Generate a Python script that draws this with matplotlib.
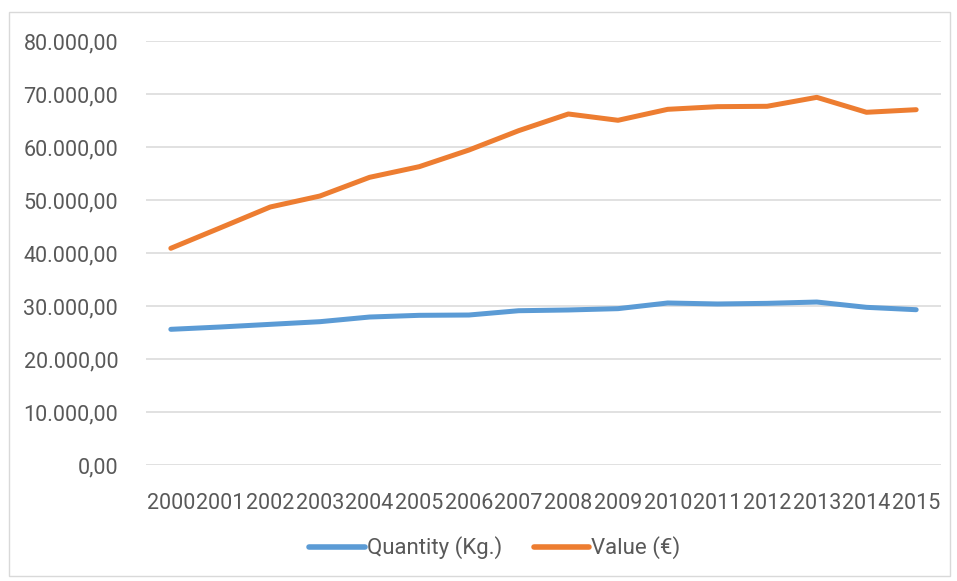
import matplotlib.pyplot as plt
from matplotlib.ticker import FuncFormatter, MultipleLocator
from matplotlib.patches import Rectangle

years = [str(y) for y in range(2000, 2016)]
quantity = [25600, 26040, 26540, 27040, 27920, 28240, 28300, 29110,
            29250, 29500, 30570, 30380, 30500, 30750, 29750, 29300]
value = [40890, 44770, 48680, 50750, 54280, 56290, 59430, 63080,
         66230, 65040, 67110, 67610, 67680, 69370, 66550, 67040]

plt.rcParams['font.family'] = 'Roboto'
text_col = '#595959'


def de_fmt(v, pos):
    s = f'{v:,.2f}'
    return s.replace(',', 'X').replace('.', ',').replace('X', '.')


fig = plt.figure(figsize=(9.57, 5.81), dpi=100)
fig.patches.append(Rectangle((9 / 957, 1 - 576 / 581), 941 / 957, 564 / 581,
                             transform=fig.transFigure, fill=False,
                             edgecolor='#D9D9D9', linewidth=1))
ax = fig.add_axes([146 / 957, 1 - 465 / 581, 795 / 957, 424 / 581])

x = range(len(years))
ax.plot(x, quantity, color='#5B9BD5', linewidth=3.6, label='Quantity (Kg.)',
        solid_capstyle='round')
ax.plot(x, value, color='#ED7D31', linewidth=3.6, label='Value (€)',
        solid_capstyle='round')

ax.set_xlim(-0.5, len(years) - 0.5)
ax.set_ylim(0, 80000)
ax.yaxis.set_major_locator(MultipleLocator(10000))
ax.yaxis.set_major_formatter(FuncFormatter(de_fmt))
ax.set_xticks(list(x))
ax.set_xticklabels(years)
ax.grid(axis='y', color='#D9D9D9', linewidth=1.1)
ax.set_axisbelow(True)
for s in ax.spines.values():
    s.set_visible(False)
ax.tick_params(length=0, labelsize=15.5, colors=text_col)
ax.tick_params(axis='y', pad=20)
ax.tick_params(axis='x', pad=20)

leg = fig.legend(loc='center', bbox_to_anchor=(495 / 957, 1 - 548 / 581),
                 ncol=2, frameon=False, fontsize=16, handlelength=2.5,
                 handletextpad=0.1, columnspacing=1.4)
for t in leg.get_texts():
    t.set_color(text_col)
for h in leg.get_lines():
    h.set_linewidth(4)

fig.savefig('out.png', dpi=100)
